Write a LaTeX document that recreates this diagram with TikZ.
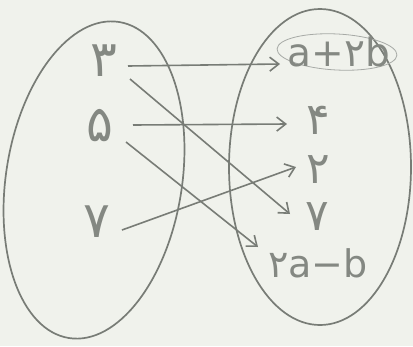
\documentclass[tikz,border=0pt]{standalone}
\usepackage{fontspec}
\setmainfont{DejaVu Sans}
\newfontfamily\fa[Script=Arabic]{DejaVu Sans}
\usetikzlibrary{arrows.meta}
\definecolor{pencil}{RGB}{120,124,118}
\definecolor{paper}{RGB}{240,242,236}
\tikzset{
  setline/.style={draw=pencil, line width=1.7pt},
  faintline/.style={draw=pencil!65, line width=0.8pt},
  arr/.style={draw=pencil, line width=1.6pt, -{Straight Barb[length=9pt,width=14pt,line width=1.6pt]}},
  lbl/.style={text=pencil!90!paper, inner sep=0pt, font=\fontsize{50}{50}\selectfont},
  rlbl/.style={text=pencil!90!paper, inner sep=0pt, font=\fontsize{44}{44}\selectfont},
  expr/.style={text=pencil!90!paper, inner sep=0pt, font=\fontsize{39}{39}\selectfont},
}
\begin{document}
\begin{tikzpicture}[x=1pt,y=-1pt]
\fill[paper] (0,0) rectangle (413,346);
\useasboundingbox (0,0) rectangle (413,346);
% sets
\draw[setline, rotate around={-9:(94,180)}] (94,180) ellipse [x radius=88, y radius=160];
\draw[setline] (320,167) ellipse [x radius=91, y radius=158];
\draw[faintline, rotate around={-3:(337,52)}] (337,52) ellipse [x radius=60, y radius=18];
% left elements
\node[lbl] (n3) at (104,61) {\fa ۳};
\node[lbl] (n5) at (100,126) {\fa ۵};
\node[lbl] (n7) at (97,222) {\fa ۷};
% right elements
\node[expr] (ra) at (339,52) {a+{\fa ۲}b};
\node[rlbl] (r4) at (318,120) {\fa ۴};
\node[rlbl] (r2) at (318,170) {\fa ۲};
\node[rlbl] (r7) at (317,217) {\fa ۷};
\node[expr, font=\fontsize{38}{38}\selectfont] (rb) at (318,263) {{\fa ۲}a−b};
% arrows
\draw[arr] ([shift={(24,5)}]n3.center) -- ([shift={(-59,12)}]ra.center);
\draw[arr] ([shift={(26,18)}]n3.center) -- ([shift={(-27,-3)}]r7.center);
\draw[arr] ([shift={(33,-1)}]n5.center) -- ([shift={(-31,4)}]r4.center);
\draw[arr] ([shift={(26,16)}]n5.center) -- ([shift={(-60,-16)}]rb.center);
\draw[arr] ([shift={(25,8)}]n7.center) -- ([shift={(-22,-3)}]r2.center);
\end{tikzpicture}
\end{document}
